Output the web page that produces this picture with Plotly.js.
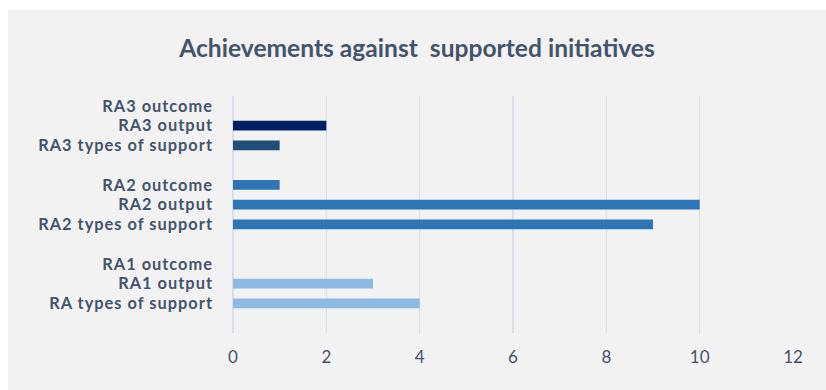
<!DOCTYPE html>
<html>
<head>
<meta charset="utf-8">
<script src="https://cdn.plot.ly/plotly-3.0.1.min.js"></script>
<style>
html, body { margin: 0; padding: 0; background: #ffffff; }
#chart { position: absolute; left: 8px; top: 10px; width: 818px; height: 380px; }
#chart .ytick text { letter-spacing: 1px; }
</style>
</head>
<body>
<div id="chart"></div>
<script>
// Categories from bottom to top (blank entries are group spacers)
const categories = [
  "RA types of support", "RA1 output", "RA1 outcome", " ",
  "RA2 types of support", "RA2 output", "RA2 outcome", "  ",
  "RA3 types of support", "RA3 output", "RA3 outcome"
];
const values = [4, 3, 0, null, 9, 10, 1, null, 1, 2, 0];
const xTicks = [0, 2, 4, 6, 8, 10, 12];

const barColors = [
  "#8DB9E2", "#8DB9E2", "#8DB9E2", "#ffffff",
  "#2E75B6", "#2E75B6", "#2E75B6", "#ffffff",
  "#1F4E79", "#002060", "#002060"
];

const trace = {
  type: "bar",
  orientation: "h",
  y: categories,
  x: values,
  marker: { color: barColors },
  hoverinfo: "x+y"
};

const layout = {
  width: 818,
  height: 380,
  paper_bgcolor: "#F2F2F2",
  plot_bgcolor: "#F2F2F2",
  margin: { l: 225, r: 33, t: 86, b: 57 },
  bargap: 0.5,
  showlegend: false,
  title: {
    text: "<b>Achievements against  supported initiatives</b>",
    font: { family: "Lato, 'Open Sans', sans-serif", size: 24.6, color: "#44546A" },
    x: 0.5, xanchor: "center", y: 0.9, yref: "container", yanchor: "middle"
  },
  xaxis: {
    range: [0, 12],
    tickvals: xTicks,
    ticktext: xTicks.map(String),
    showgrid: true,
    gridcolor: "#D9DEE6",
    gridwidth: 1.5,
    zeroline: true,
    zerolinecolor: "#D9DEE6",
    zerolinewidth: 1.5,
    showline: false,
    ticks: "",
    ticklabelstandoff: 12,
    tickfont: { family: "Lato, 'Open Sans', sans-serif", size: 17, color: "#44546A" },
    fixedrange: true
  },
  yaxis: {
    type: "category",
    categoryorder: "array",
    categoryarray: categories,
    tickmode: "array",
    tickvals: categories,
    ticktext: categories,
    range: [-1.5, 10.5],
    showgrid: false,
    zeroline: false,
    showline: false,
    ticks: "",
    ticklabelstandoff: 19,
    tickfont: { family: "Lato, 'Open Sans', sans-serif", size: 16.4, color: "#44546A", weight: "bold" },
    fixedrange: true
  }
};

Plotly.newPlot("chart", [trace], layout, { displayModeBar: false, staticPlot: true });
</script>
</body>
</html>
